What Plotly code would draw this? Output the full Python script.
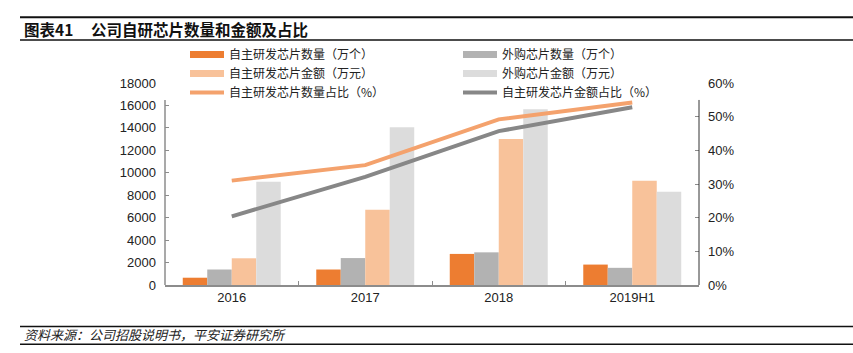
import plotly.graph_objects as go

categories = ["2016", "2017", "2018", "2019H1"]
own_qty = [650, 1380, 2770, 1820]          # 自主研发芯片数量（万个）
bought_qty = [1380, 2400, 2910, 1530]      # 外购芯片数量（万个）
own_amt = [2380, 6700, 13000, 9290]        # 自主研发芯片金额（万元）
bought_amt = [9200, 14050, 15660, 8310]    # 外购芯片金额（万元）
own_qty_pct = [0.310, 0.356, 0.492, 0.542]  # 自主研发芯片数量占比
own_amt_pct = [0.204, 0.321, 0.457, 0.528]  # 自主研发芯片金额占比

names = ["自主研发芯片数量（万个）", "外购芯片数量（万个）",
         "自主研发芯片金额（万元）", "外购芯片金额（万元）",
         "自主研发芯片数量占比（%）", "自主研发芯片金额占比（%）"]
bar_colors = ["#ED7D31", "#B2B2B2", "#F8C29A", "#DCDCDC"]
line_colors = ["#F4A26D", "#878787"]
legend_of = ["legend", "legend2", "legend", "legend2", "legend", "legend2"]

FONT = "Liberation Sans, Noto Sans CJK SC, sans-serif"
CJK = "Noto Sans CJK SC, Liberation Sans, sans-serif"

fig = go.Figure()
for vals, name, col in zip([own_qty, bought_qty, own_amt, bought_amt], names[:4], bar_colors):
    fig.add_trace(go.Bar(x=categories, y=vals, name=name, marker=dict(color=col, line=dict(width=0)),
                         showlegend=False))
# legend swatches for bars (wide rectangles like the original)
for name, col, lg in zip(names[:4], bar_colors, legend_of[:4]):
    fig.add_trace(go.Scatter(x=[None], y=[None], mode="lines", name=name, legend=lg,
                             line=dict(color=col, width=7)))
for vals, name, col, lg in zip([own_qty_pct, own_amt_pct], names[4:], line_colors, legend_of[4:]):
    fig.add_trace(go.Scatter(x=categories, y=vals, name=name, mode="lines", yaxis="y2", legend=lg,
                             line=dict(color=col, width=4)))

W, H = 853, 353
L, R, T, B = 165, 154, 83, 67.5
pw, ph = W - L - R, H - T - B

def px(x):
    return (x - L) / pw

def py(y):
    return (H - B - y) / ph

axis_col = "#8C8C8C"
legend_style = dict(orientation="v", yanchor="top", xanchor="left", bgcolor="rgba(255,255,255,0)",
                    font=dict(family=CJK, size=12, color="#222222"), tracegroupgap=0, itemwidth=34)
fig.update_layout(
    width=W, height=H, margin=dict(l=L, r=R, t=T, b=B, autoexpand=False),
    paper_bgcolor="white", plot_bgcolor="white",
    barmode="group", bargap=0.266, bargroupgap=0,
    font=dict(family=FONT, size=13, color="#222222"),
    xaxis=dict(type="category", showline=True, linecolor=axis_col, linewidth=1.5,
               ticks="inside", tickson="boundaries", ticklen=4, tickcolor=axis_col,
               showgrid=False, tickfont=dict(size=13), fixedrange=True),
    yaxis=dict(range=[0, 18000], dtick=2000, showline=False, showgrid=False, zeroline=False,
               ticks="inside", ticklen=4, tickcolor=axis_col, tickformat="d",
               ticklabelstandoff=8, tickfont=dict(size=13)),
    yaxis2=dict(range=[0, 0.6], dtick=0.1, overlaying="y", side="right", showline=False,
                showgrid=False, zeroline=False, ticks="inside", ticklen=4, tickcolor=axis_col,
                tickformat=".0%", ticklabelstandoff=8, tickfont=dict(size=13)),
    legend=dict(x=px(185), y=py(40), **legend_style),
    legend2=dict(x=px(458), y=py(40), **legend_style),
    showlegend=True,
)

shapes = [
    # axis lines (start below the legend as in the original)
    dict(type="line", xref="paper", yref="paper", x0=0, x1=0, y0=0, y1=py(100),
         line=dict(color=axis_col, width=1.5)),
    dict(type="line", xref="paper", yref="paper", x0=1, x1=1, y0=0, y1=py(100),
         line=dict(color="#333333", width=1)),
    # header / footer rules
    dict(type="line", xref="paper", yref="paper", x0=px(20), x1=px(853), y0=py(17), y1=py(17),
         line=dict(color="#111111", width=2)),
    dict(type="line", xref="paper", yref="paper", x0=px(20), x1=px(853), y0=py(40), y1=py(40),
         line=dict(color="#111111", width=1.5)),
    dict(type="line", xref="paper", yref="paper", x0=px(20), x1=px(853), y0=py(327), y1=py(327),
         line=dict(color="#111111", width=1.5)),
    dict(type="line", xref="paper", yref="paper", x0=px(20), x1=px(853), y0=py(345), y1=py(345),
         line=dict(color="#111111", width=1.5)),
]
fig.update_layout(shapes=shapes)

fig.add_annotation(x=px(22), y=py(28.5), xref="paper", yref="paper", xanchor="left", yanchor="middle",
                   showarrow=False, text="<b>图表41&#160;&#160;&#160;&#160;&#160;公司自研芯片数量和金额及占比</b>",
                   font=dict(family=CJK, size=15.5, color="#111111"))
fig.add_annotation(x=px(22), y=py(335.5), xref="paper", yref="paper", xanchor="left", yanchor="middle",
                   showarrow=False, text="<i>资料来源：公司招股说明书，平安证券研究所</i>",
                   font=dict(family=CJK, size=13, color="#222222"))

fig.write_html("out.html")
